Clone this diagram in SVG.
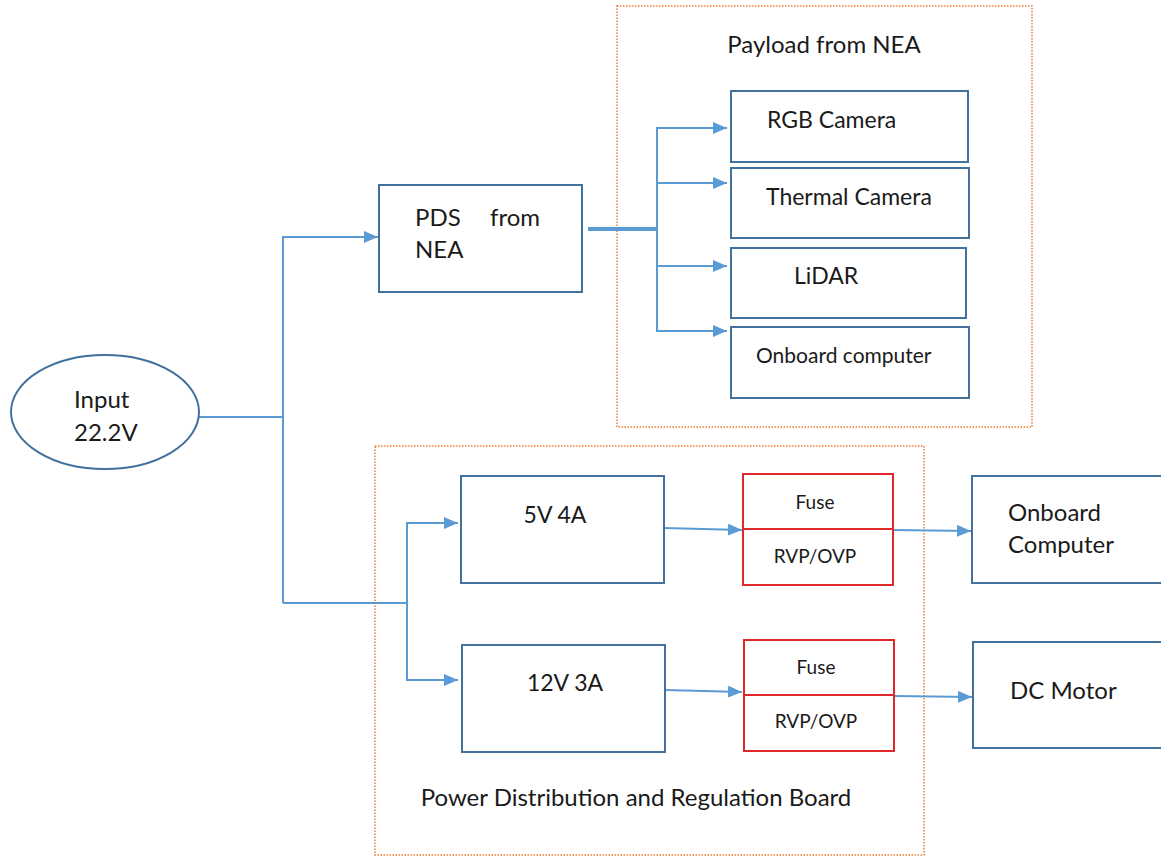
<svg xmlns="http://www.w3.org/2000/svg" width="1161" height="857" viewBox="0 0 1161 857">
<style>
text{font-family:Lato,"Open Sans","Liberation Sans",sans-serif;fill:#1a1a1a}
.box{fill:#fff;stroke:#41719C;stroke-width:2}
.red{fill:#fff;stroke:#E0282A;stroke-width:2}
.grp{fill:none;stroke:#ED7D31;stroke-width:1.5;stroke-dasharray:1.5 1.5}
.c{fill:none;stroke:#5B9BD5;stroke-width:2}
.t24{font-size:24px}
.t23{font-size:23px}
.t21{font-size:21px}
.t19{font-size:19px}
</style>
<defs>
<marker id="ah" markerWidth="14" markerHeight="12" refX="14" refY="6" orient="auto" markerUnits="userSpaceOnUse">
<path d="M0,0 L14,6 L0,12 z" fill="#5B9BD5"/>
</marker>
</defs>
<rect width="1161" height="857" fill="#fff"/>

<g id="payload-group">
<rect class="grp" x="617" y="6" width="415" height="421"/>
<text class="t24" x="824" y="53" text-anchor="middle">Payload from NEA</text>
</g>
<g id="power-board-group">
<rect class="grp" x="375" y="446" width="549" height="409"/>
<text class="t24" x="636" y="806" text-anchor="middle">Power Distribution and Regulation Board</text>
</g>

<g id="connectors">
<path class="c" d="M199,417 H283"/>
<path class="c" d="M283,603 V237 H378" marker-end="url(#ah)"/>
<path class="c" d="M283,603 H407"/>
<path class="c" d="M407,603 V523 H458" marker-end="url(#ah)"/>
<path class="c" d="M407,603 V680 H458" marker-end="url(#ah)"/>
<path d="M588,229 H657" fill="none" stroke="#5B9BD5" stroke-width="4"/>
<path class="c" d="M657,229 V128 H727" marker-end="url(#ah)"/>
<path class="c" d="M657,229 V183 H727" marker-end="url(#ah)"/>
<path class="c" d="M657,229 V266 H727" marker-end="url(#ah)"/>
<path class="c" d="M657,229 V331 H727" marker-end="url(#ah)"/>
<path class="c" d="M664,528 L742,530" marker-end="url(#ah)"/>
<path class="c" d="M665,690 L742,692" marker-end="url(#ah)"/>
<path class="c" d="M893,530 L971,531" marker-end="url(#ah)"/>
<path class="c" d="M894,696 L972,697" marker-end="url(#ah)"/>
</g>

<g id="input">
<ellipse cx="105" cy="412" rx="94" ry="57" fill="#fff" stroke="#41719C" stroke-width="2"/>
<text class="t24" x="74" y="408">Input</text>
<text class="t24" x="74" y="441">22.2V</text>
</g>
<g id="pds">
<rect class="box" x="379" y="185" width="203" height="107"/>
<text class="t24" x="415" y="226">PDS</text>
<text class="t24" x="490" y="226">from</text>
<text class="t24" x="415" y="258">NEA</text>
</g>
<g id="rgb-camera">
<rect class="box" x="731" y="91" width="237" height="71"/>
<text class="t23" x="767" y="128">RGB Camera</text>
</g>
<g id="thermal-camera">
<rect class="box" x="731" y="168" width="238" height="70"/>
<text class="t23" x="766" y="205">Thermal Camera</text>
</g>
<g id="lidar">
<rect class="box" x="731" y="248" width="235" height="70"/>
<text class="t23" x="794" y="284">LiDAR</text>
</g>
<g id="onboard-computer-payload">
<rect class="box" x="731" y="327" width="238" height="71"/>
<text class="t21" x="756" y="363">Onboard computer</text>
</g>
<g id="reg-5v">
<rect class="box" x="461" y="476" width="203" height="107"/>
<text class="t23" x="555" y="523" text-anchor="middle">5V 4A</text>
</g>
<g id="reg-12v">
<rect class="box" x="462" y="645" width="203" height="107"/>
<text class="t23" x="565" y="691" text-anchor="middle">12V 3A</text>
</g>
<g id="fuse-1">
<rect class="red" x="743" y="474" width="150" height="111"/>
<path d="M743,529 H893" stroke="#E0282A" stroke-width="2"/>
<text class="t19" x="815" y="509" text-anchor="middle">Fuse</text>
<text class="t19" x="815" y="563" text-anchor="middle">RVP/OVP</text>
</g>
<g id="fuse-2">
<rect class="red" x="744" y="640" width="150" height="111"/>
<path d="M744,695 H894" stroke="#E0282A" stroke-width="2"/>
<text class="t19" x="816" y="674" text-anchor="middle">Fuse</text>
<text class="t19" x="816" y="728" text-anchor="middle">RVP/OVP</text>
</g>
<g id="onboard-computer">
<rect class="box" x="972" y="476" width="200" height="107"/>
<text class="t24" x="1008" y="521">Onboard</text>
<text class="t24" x="1008" y="553">Computer</text>
</g>
<g id="dc-motor">
<rect class="box" x="973" y="642" width="200" height="106"/>
<text class="t24" x="1010" y="699">DC Motor</text>
</g>
</svg>
